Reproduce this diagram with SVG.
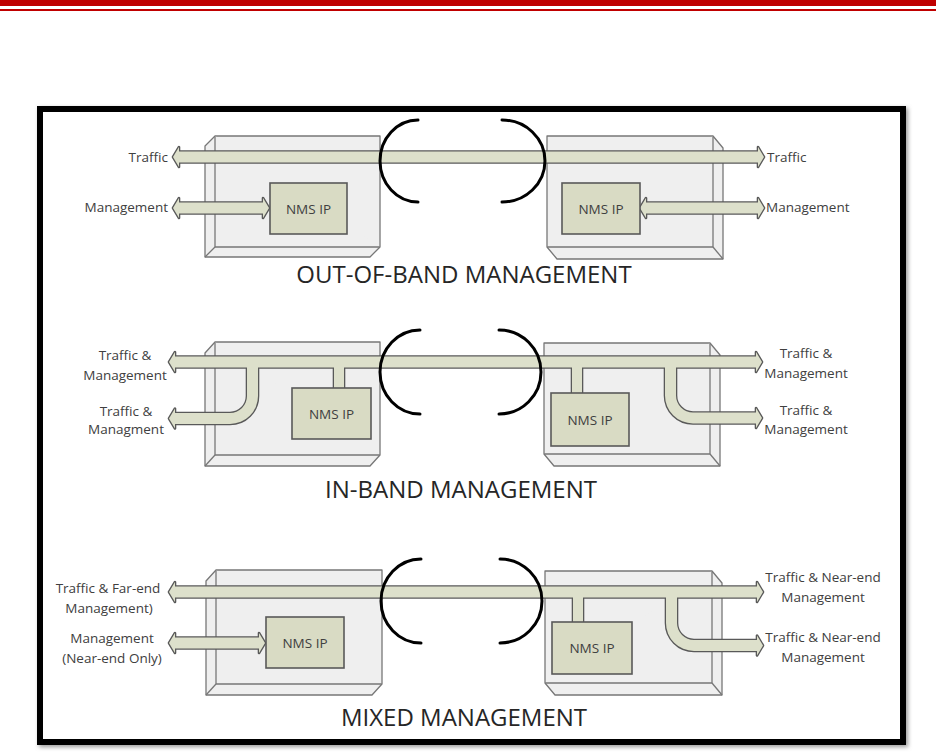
<svg xmlns="http://www.w3.org/2000/svg" xmlns:xlink="http://www.w3.org/1999/xlink" width="936" height="756" viewBox="0 0 936 756">
<defs>
<style>
.dev{fill:#efefef;stroke:#777;stroke-width:1.3;stroke-linejoin:round}
.cs{fill:none;stroke:#595959;stroke-width:2.6;stroke-linejoin:round}
.cf{fill:#dde0cb;stroke:none}
.nms{fill:#d9dbc4;stroke:#595959;stroke-width:1.6}
.arc{fill:none;stroke:#000;stroke-width:3;stroke-linecap:round}
.lbl{font-family:"Open Sans","Liberation Sans",sans-serif;font-size:13.5px;fill:#404040}
.mid{text-anchor:middle}
.end{text-anchor:end}
.ttl{font-family:"Open Sans","Liberation Sans",sans-serif;font-size:24px;fill:#262626;text-anchor:middle}
</style>
<filter id="sh" x="-5%" y="-5%" width="110%" height="110%">
<feGaussianBlur stdDeviation="2"/>
</filter>
<path id="a1t" d="M173,157 L179,147 L179,151.5 L758,151.5 L758,147 L764,157 L758,167 L758,162.5 L179,162.5 L179,167 Z"/>
<path id="a1l" d="M173,208 L179,198 L179,202.5 L263,202.5 L263,198 L269,208 L263,218 L263,213.5 L179,213.5 L179,218 Z"/>
<path id="a1r" d="M640,208 L646,198 L646,202.5 L758,202.5 L758,198 L764,208 L758,218 L758,213.5 L646,213.5 L646,218 Z"/>
<path id="a2t" d="M169,362 L175,352 L175,356.5 L756,356.5 L756,352 L762,362 L756,372 L756,367.5 L175,367.5 L175,372 Z"/>
<path id="a2bl" d="M169,418.5 L175,408.5 L175,413 L230,413 A17,17 0 0 0 247,396 L247,362 L258,362 L258,396 A28,28 0 0 1 230,424 L175,424 L175,428.5 Z"/>
<path id="a2sl" d="M334,362 L344,362 L344,389 L334,389 Z"/>
<path id="a2sr" d="M572,362 L582,362 L582,394 L572,394 Z"/>
<path id="a2br" d="M762,418 L756,408 L756,412.5 L693,412.5 A17,17 0 0 1 676,395.5 L676,362 L665,362 L665,395.5 A28,28 0 0 0 693,423.5 L756,423.5 L756,428 Z"/>
<path id="a3t" d="M169,592 L175,582 L175,586.5 L757,586.5 L757,582 L763,592 L757,602 L757,597.5 L175,597.5 L175,602 Z"/>
<path id="a3l" d="M169,643 L175,633 L175,637.5 L259,637.5 L259,633 L265,643 L259,653 L259,648.5 L175,648.5 L175,653 Z"/>
<path id="a3sr" d="M573,592 L583,592 L583,623 L573,623 Z"/>
<path id="a3br" d="M763,645.5 L757,635.5 L757,640 L694,640 A17,17 0 0 1 677,623 L677,592 L666,592 L666,623 A28,28 0 0 0 694,651 L757,651 L757,655.5 Z"/>
</defs>

<g id="header">
<rect x="0" y="0" width="936" height="6" fill="#c00000"/>
<rect x="0" y="9" width="936" height="2" fill="#c00000"/>
</g>

<g id="frame">
<rect x="42" y="111" width="863" height="633" fill="none" stroke="#9a9a9a" stroke-width="6" filter="url(#sh)"/>
<rect x="40" y="109" width="863" height="633" fill="#fff" stroke="#000" stroke-width="6"/>
</g>

<g id="devices">
<g id="dev-oob-left">
<polygon class="dev" points="205,146 215,136 380,136 380,247 370,257 205,257"/>
<polyline class="dev" fill="none" points="215,136 215,247 380,247"/>
<line class="dev" x1="205" y1="257" x2="215" y2="247"/>
</g>
<g id="dev-oob-right">
<polygon class="dev" points="547,136 713,136 723,148 723,259 557,259 547,247"/>
<polyline class="dev" fill="none" points="713,136 713,247 547,247"/>
<line class="dev" x1="713" y1="247" x2="723" y2="259"/>
</g>
<g id="dev-ib-left">
<polygon class="dev" points="205,353 215,342 380,342 380,455 370,466 205,466"/>
<polyline class="dev" fill="none" points="215,342 215,455 380,455"/>
<line class="dev" x1="205" y1="466" x2="215" y2="455"/>
</g>
<g id="dev-ib-right">
<polygon class="dev" points="544,343 710,343 720,355 720,466 554,466 544,454"/>
<polyline class="dev" fill="none" points="710,343 710,454 544,454"/>
<line class="dev" x1="710" y1="454" x2="720" y2="466"/>
</g>
<g id="dev-mx-left">
<polygon class="dev" points="206,581 216,570 382,570 382,684 372,695 206,695"/>
<polyline class="dev" fill="none" points="216,570 216,684 382,684"/>
<line class="dev" x1="206" y1="695" x2="216" y2="684"/>
</g>
<g id="dev-mx-right">
<polygon class="dev" points="545,571 712,571 722,583 722,695 555,695 545,683"/>
<polyline class="dev" fill="none" points="712,571 712,683 545,683"/>
<line class="dev" x1="712" y1="683" x2="722" y2="695"/>
</g>
</g>

<g id="connectors">
<g class="cs">
<use xlink:href="#a1t"/><use xlink:href="#a1l"/><use xlink:href="#a1r"/>
<use xlink:href="#a2t"/><use xlink:href="#a2bl"/><use xlink:href="#a2sl"/><use xlink:href="#a2sr"/><use xlink:href="#a2br"/>
<use xlink:href="#a3t"/><use xlink:href="#a3l"/><use xlink:href="#a3sr"/><use xlink:href="#a3br"/>
</g>
<g class="cf">
<use xlink:href="#a1t"/><use xlink:href="#a1l"/><use xlink:href="#a1r"/>
<use xlink:href="#a2t"/><use xlink:href="#a2bl"/><use xlink:href="#a2sl"/><use xlink:href="#a2sr"/><use xlink:href="#a2br"/>
<use xlink:href="#a3t"/><use xlink:href="#a3l"/><use xlink:href="#a3sr"/><use xlink:href="#a3br"/>
</g>
</g>

<g id="nms-oob-left"><rect class="nms" x="270" y="183" width="77" height="51"/><text class="lbl mid" x="308.5" y="213.5">NMS IP</text></g>
<g id="nms-oob-right"><rect class="nms" x="562" y="183" width="78" height="51"/><text class="lbl mid" x="601" y="213.5">NMS IP</text></g>
<g id="nms-ib-left"><rect class="nms" x="292" y="388" width="79" height="51"/><text class="lbl mid" x="331.5" y="418.5">NMS IP</text></g>
<g id="nms-ib-right"><rect class="nms" x="551" y="393" width="78" height="53"/><text class="lbl mid" x="590" y="424.5">NMS IP</text></g>
<g id="nms-mx-left"><rect class="nms" x="266" y="617" width="78" height="51"/><text class="lbl mid" x="305" y="647.5">NMS IP</text></g>
<g id="nms-mx-right"><rect class="nms" x="552" y="622" width="80" height="52"/><text class="lbl mid" x="592" y="653">NMS IP</text></g>

<g id="links">
<path class="arc" d="M418,120 A38,41 0 0 0 418,202"/>
<path class="arc" d="M502,120 A43,41 0 0 1 502,202"/>
<path class="arc" d="M420,330 A40,42 0 0 0 420,414"/>
<path class="arc" d="M499,330 A42,42 0 0 1 499,414"/>
<path class="arc" d="M421,559 A40,42 0 0 0 421,643"/>
<path class="arc" d="M500,559 A42,42 0 0 1 500,643"/>
</g>

<g id="labels">
<text class="lbl end" x="168" y="162">Traffic</text>
<text class="lbl end" x="168" y="212">Management</text>
<text class="lbl" x="767" y="162">Traffic</text>
<text class="lbl" x="766" y="212">Management</text>

<text class="lbl mid" x="125" y="360">Traffic &amp;</text>
<text class="lbl mid" x="125" y="380">Management</text>
<text class="lbl mid" x="126" y="415.5">Traffic &amp;</text>
<text class="lbl mid" x="126" y="434">Managment</text>
<text class="lbl mid" x="806" y="358">Traffic &amp;</text>
<text class="lbl mid" x="806" y="377.5">Management</text>
<text class="lbl mid" x="806" y="415">Traffic &amp;</text>
<text class="lbl mid" x="806" y="434">Management</text>

<text class="lbl mid" x="108" y="593">Traffic &amp; Far-end</text>
<text class="lbl mid" x="109" y="612.5">Management)</text>
<text class="lbl mid" x="112" y="643">Management</text>
<text class="lbl mid" x="112" y="662.5">(Near-end Only)</text>
<text class="lbl mid" x="823" y="582">Traffic &amp; Near-end</text>
<text class="lbl mid" x="823" y="601.5">Management</text>
<text class="lbl mid" x="823" y="642">Traffic &amp; Near-end</text>
<text class="lbl mid" x="823" y="661.5">Management</text>
</g>

<g id="titles">
<text class="ttl" x="464" y="283">OUT-OF-BAND MANAGEMENT</text>
<text class="ttl" x="461" y="498">IN-BAND MANAGEMENT</text>
<text class="ttl" x="464" y="726">MIXED MANAGEMENT</text>
</g>
</svg>
